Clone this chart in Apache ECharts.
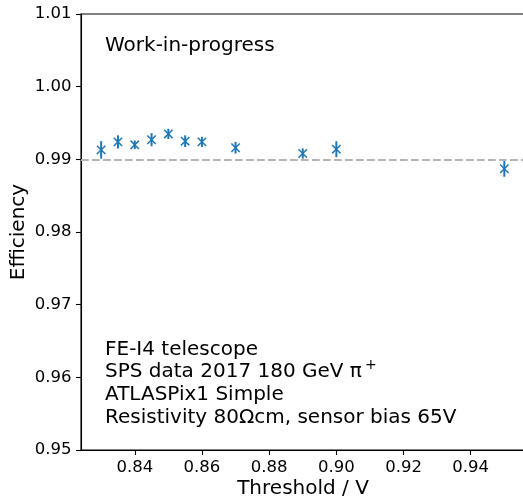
<!DOCTYPE html>
<html>
<head>
<meta charset="utf-8">
<script src="https://cdn.jsdelivr.net/npm/echarts@6/dist/echarts.min.js"></script>
<style>html,body{margin:0;padding:0;background:#fff}#c{width:523px;height:498px}</style>
</head>
<body>
<div id="c"></div>
<script>
const thresholds = [0.83, 0.835, 0.84, 0.845, 0.85, 0.855, 0.86, 0.87, 0.89, 0.90, 0.95];
const efficiency = [0.9913, 0.9924, 0.9920, 0.9927, 0.9935, 0.9925, 0.9924, 0.9916, 0.9908, 0.9914, 0.9887];
const errors = [0.0012, 0.0009, 0.0006, 0.0009, 0.0007, 0.0008, 0.0007, 0.0008, 0.0007, 0.0011, 0.0011];
const xTicks = [0.84, 0.86, 0.88, 0.90, 0.92, 0.94];
const yTicks = [0.95, 0.96, 0.97, 0.98, 0.99, 1.00, 1.01];
const refLevel = 0.99;
const annotationLines = ['FE-I4 telescope', 'SPS data 2017 180 GeV π', 'ATLASPix1 Simple', 'Resistivity 80Ωcm, sensor bias 65V'];

const FONT = 'DejaVu Sans';
const BLUE = '#1f77b4';
const chart = echarts.init(document.getElementById('c'), null, {renderer: 'canvas'});

const data = thresholds.map((t, i) => [t, efficiency[i], errors[i]]);

const ctx = document.createElement('canvas').getContext('2d');
ctx.font = '20px "' + FONT + '"';
const l2w = ctx.measureText(annotationLines[1]).width;

const textStyle = (extra) => Object.assign({fill: '#000', font: '20px "' + FONT + '"', textVerticalAlign: 'middle'}, extra);

chart.setOption({
  animation: false,
  grid: {left: 81, width: 443.5, top: 14, bottom: 48, containLabel: false, outerBoundsMode: 'none', show: true, borderColor: '#000', borderWidth: 1.1, backgroundColor: 'transparent'},
  xAxis: {
    type: 'value', min: 0.824, max: 0.956,
    axisLine: {show: true, onZero: false, lineStyle: {color: '#000', width: 1.1}},
    splitLine: {show: false},
    axisTick: {show: true, inside: false, length: 5, lineStyle: {color: '#000', width: 1.1}, customValues: xTicks},
    axisLabel: {show: true, margin: 9, color: '#000', fontFamily: FONT, fontSize: 16.5, customValues: xTicks, formatter: v => v.toFixed(2)}
  },
  yAxis: {
    type: 'value', min: 0.95, max: 1.01,
    axisLine: {show: true, onZero: false, lineStyle: {color: '#000', width: 1.1}},
    splitLine: {show: false},
    axisTick: {show: true, inside: false, length: 5, lineStyle: {color: '#000', width: 1.1}, customValues: yTicks},
    axisLabel: {show: true, margin: 9.5, color: '#000', fontFamily: FONT, fontSize: 16.5, customValues: yTicks, formatter: v => v.toFixed(2)}
  },
  series: [
    {
      type: 'line', data: [], symbol: 'none', silent: true,
      markLine: {
        silent: true, symbol: ['none', 'none'], label: {show: false},
        lineStyle: {color: '#b4b4b4', width: 2, type: [7.7, 3.3]},
        data: [{yAxis: refLevel}]
      }
    },
    {
      type: 'custom', data: data, clip: false,
      renderItem: function (params, api) {
        const x = api.value(0), y = api.value(1), e = api.value(2);
        const c = api.coord([x, y]);
        const t = api.coord([x, y + e]);
        const b = api.coord([x, y - e]);
        const h = 4.2;
        return {type: 'group', children: [
          {type: 'line', shape: {x1: c[0], y1: t[1], x2: c[0], y2: b[1]}, style: {stroke: BLUE, lineWidth: 2}},
          {type: 'line', shape: {x1: c[0] - h, y1: c[1] - h, x2: c[0] + h, y2: c[1] + h}, style: {stroke: BLUE, lineWidth: 1.5}},
          {type: 'line', shape: {x1: c[0] - h, y1: c[1] + h, x2: c[0] + h, y2: c[1] - h}, style: {stroke: BLUE, lineWidth: 1.5}}
        ]};
      }
    }
  ],
  graphic: [
    {type: 'text', left: 105, top: 35.5, style: textStyle({text: 'Work-in-progress', textVerticalAlign: 'top'})},
    {type: 'text', x: 105, y: 349.5, style: textStyle({text: annotationLines[0]})},
    {type: 'text', x: 105, y: 372.2, style: textStyle({text: annotationLines[1]})},
    {type: 'text', x: 105 + l2w + 3, y: 365.2, style: textStyle({text: '+', font: '14px "' + FONT + '"'})},
    {type: 'text', x: 105, y: 394.9, style: textStyle({text: annotationLines[2]})},
    {type: 'text', x: 105, y: 417.6, style: textStyle({text: annotationLines[3]})},
    {type: 'text', x: 303, y: 489, style: textStyle({text: 'Threshold / V', textAlign: 'center'})},
    {type: 'text', x: 19, y: 232, rotation: Math.PI / 2, style: textStyle({text: 'Efficiency', textAlign: 'center'})}
  ]
});
</script>
</body>
</html>
